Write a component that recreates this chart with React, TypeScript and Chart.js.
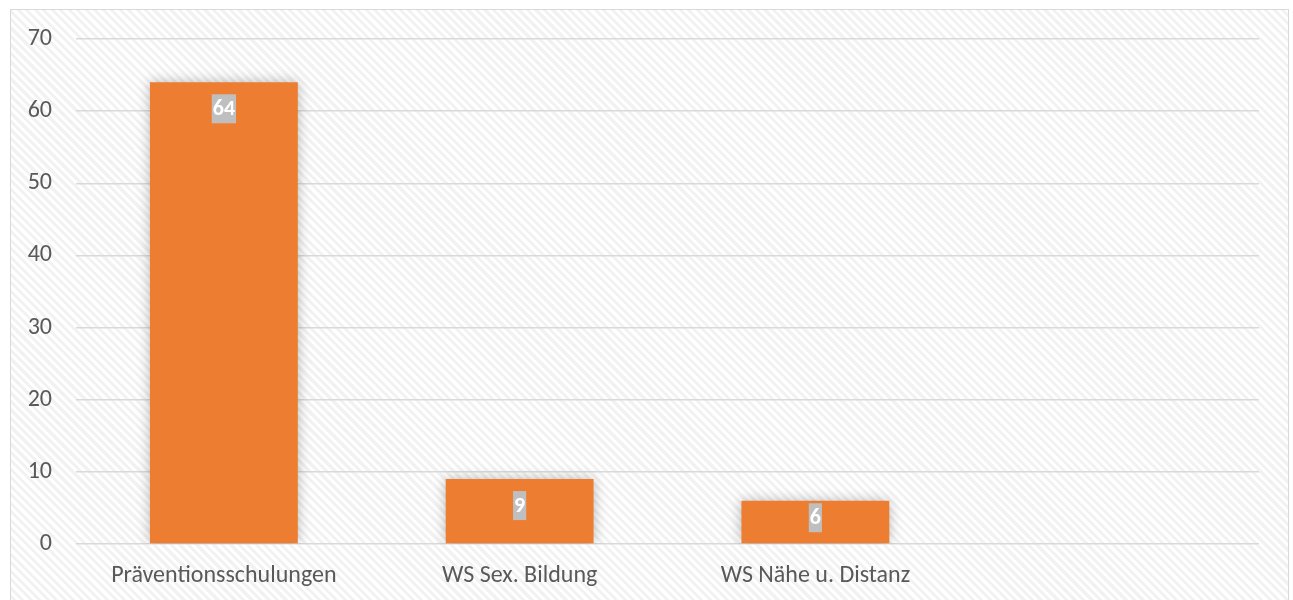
import React, { useEffect, useRef } from "react";
import { Chart, registerables } from "chart.js";

Chart.register(...registerables);

const categories = ["Präventionsschulungen", "WS Sex. Bildung", "WS Nähe u. Distanz", ""];
const values = [64, 9, 6, null];
const yTicks = [0, 10, 20, 30, 40, 50, 60, 70];

const FONT = "Carlito, Lato, 'Liberation Sans', sans-serif";

const barShadow = {
  id: "barShadow",
  beforeDatasetDraw(chart: any) {
    const ctx = chart.ctx;
    ctx.save();
    ctx.shadowColor = "rgba(0,0,0,0.28)";
    ctx.shadowBlur = 12;
    ctx.shadowOffsetX = 0;
    ctx.shadowOffsetY = 0;
  },
  afterDatasetDraw(chart: any) {
    chart.ctx.restore();
  },
};

const valueLabels = {
  id: "valueLabels",
  afterDatasetsDraw(chart: any) {
    const ctx = chart.ctx;
    const meta = chart.getDatasetMeta(0);
    const ds = chart.data.datasets[0];
    ctx.save();
    ctx.font = `bold 22px ${FONT}`;
    ctx.textAlign = "center";
    ctx.textBaseline = "middle";
    meta.data.forEach((bar: any, i: number) => {
      const v = ds.data[i];
      if (v === null || v === undefined) return;
      const text = String(v);
      const w = ctx.measureText(text).width + 2;
      const h = 29;
      const base = bar.base;
      const top = Math.min(bar.y + 12, base - 11 - h);
      ctx.fillStyle = "#bfbfbf";
      ctx.fillRect(bar.x - w / 2, top, w, h);
      ctx.fillStyle = "#ffffff";
      ctx.fillText(text, bar.x, top + h / 2 + 1);
    });
    ctx.restore();
  },
};

export default function App() {
  const ref = useRef<HTMLCanvasElement>(null);
  useEffect(() => {
    if (!ref.current) return;
    const chart = new Chart(ref.current, {
      type: "bar",
      data: {
        labels: categories,
        datasets: [
          {
            data: values as any,
            backgroundColor: "#ED7D31",
            categoryPercentage: 1,
            barPercentage: 0.5,
          },
        ],
      },
      options: {
        animation: false,
        responsive: false,
        events: [],
        layout: { padding: { top: 29, right: 28, left: 0, bottom: 0 } },
        plugins: { legend: { display: false }, tooltip: { enabled: false } },
        scales: {
          x: {
            grid: { display: false, drawTicks: false },
            border: { display: false },
            ticks: { color: "#595959", font: { family: FONT, size: 24 }, padding: 18 },
            afterFit(scale: any) {
              scale.height = 58;
              scale.paddingLeft = 0;
              scale.paddingRight = 0;
            },
          },
          y: {
            min: 0,
            max: 70,
            afterBuildTicks(scale: any) {
              scale.ticks = yTicks.map((v) => ({ value: v }));
            },
            grid: { color: "#d9d9d9", lineWidth: 1.5, drawTicks: false },
            border: { display: false },
            ticks: { color: "#595959", font: { family: FONT, size: 24 }, padding: 24 },
            afterFit(scale: any) {
              scale.width = 65;
              scale.paddingTop = 0;
              scale.paddingBottom = 0;
            },
          },
        },
      },
      plugins: [barShadow, valueLabels],
    });
    return () => chart.destroy();
  }, []);

  return (
    <div
      style={{
        position: "absolute",
        left: 10,
        top: 9,
        width: 1279,
        height: 595,
        boxSizing: "border-box",
        border: "1.5px solid #d9d9d9",
        background:
          "repeating-linear-gradient(45deg, #ffffff 0px, #ffffff 3px, #f2f2f2 3px, #f2f2f2 6px)",
      }}
    >
      <canvas ref={ref} width={1276} height={592} style={{ display: "block" }} />
    </div>
  );
}
